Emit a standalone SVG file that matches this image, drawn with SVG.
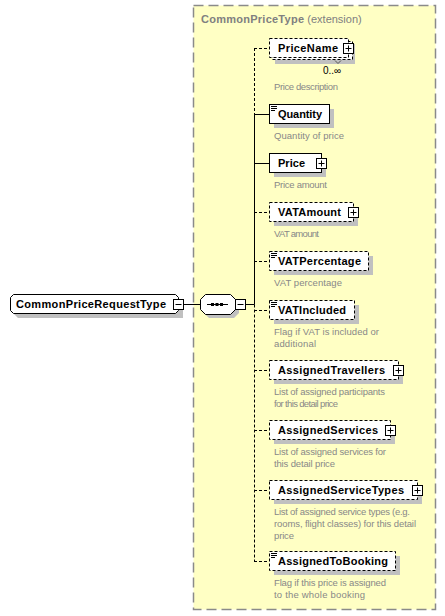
<svg xmlns="http://www.w3.org/2000/svg" width="445" height="616" viewBox="0 0 445 616">
<defs>
<style>
.bg{fill:#ffffc4;stroke:#8a8a8a;stroke-width:1.5;stroke-dasharray:10 5}
.sh{fill:#c0c0c0}
.bx{fill:#fff;stroke:#000;stroke-width:1}
.opt{stroke-dasharray:3 2}
.nm{font-family:"Liberation Sans",Arial,sans-serif;font-weight:bold;font-size:11px;fill:#000}
.ds{font-family:"Liberation Sans",Arial,sans-serif;font-size:9.5px;fill:#888}
.ttl{font-family:"Liberation Sans",Arial,sans-serif;font-size:11px;fill:#808080}
.oc{font-family:"Liberation Sans",Arial,sans-serif;font-size:10px;fill:#000}
.ln{stroke:#000;stroke-width:1;fill:none}
.dl{stroke-dasharray:3 2}
.ic{fill:#fff;stroke:#000;stroke-width:1}
</style>
<g id="plus"><rect class="ic" x="0.5" y="0.5" width="10" height="10"/><path class="ln" d="M2.5,5.5H8.5M5.5,2.5V8.5"/></g>
<g id="minus"><rect class="ic" x="0.5" y="0.5" width="10" height="10"/><path class="ln" d="M2.5,5.5H8.5"/></g>
<g id="simp"><path class="ln" d="M0,0.5H6M0,2.5H6M0,4.5H4"/></g>
</defs>

<rect class="bg" x="193.5" y="5.5" width="242" height="604"/>
<text class="ttl" x="201" y="23"><tspan font-weight="bold" textLength="103">CommonPriceType</tspan><tspan> (extension)</tspan></text>

<g id="connectors">
<path class="ln" d="M183,304.5H200M245,304.5H254.5"/>
<path class="ln dl" d="M254.5,48V114"/>
<path class="ln" d="M254.5,114V304.5"/>
<path class="ln dl" d="M254.5,304.5V561"/>
<path class="ln dl" d="M254,48.5H269"/>
<path class="ln" d="M254,114.5H269M254,163.5H269"/>
<path class="ln dl" d="M254,212.5H269M254,261.5H269M254,310.5H269M254,370.5H269M254,430.5H269M254,490.5H269M254,561.5H269"/>
</g>

<g id="CommonPriceRequestType">
<path class="sh" d="M18,299H183V318H18L14,314V303Z"/>
<path class="bx" d="M13.5,294.5H175.5L178.5,297.5V310.5L175.5,313.5H13.5L10.5,310.5V297.5Z"/>
<text class="nm" x="16" y="308" textLength="150">CommonPriceRequestType</text>
<use href="#minus" x="173" y="299"/>
</g>

<g id="sequence">
<path class="sh" d="M209,298H234L239,303V313L234,318H209L204,313V303Z"/>
<path class="bx" d="M205.5,294.5H230.5L235.5,299.5V309.5L230.5,314.5H205.5L200.5,309.5V299.5Z"/>
<path class="ln" d="M207,304.5H228"/>
<rect x="211" y="303" width="3" height="3" fill="#000"/>
<rect x="215.5" y="303" width="3" height="3" fill="#000"/>
<rect x="220" y="303" width="3" height="3" fill="#000"/>
<use href="#minus" x="235" y="299"/>
</g>

<g id="PriceName">
<rect class="sh" x="275" y="44" width="80" height="20"/>
<rect class="bx opt" x="272.5" y="41.5" width="80" height="18"/>
<rect class="bx opt" x="269.5" y="38.5" width="79" height="19"/>
<text class="nm" x="278" y="52" textLength="60">PriceName</text>
<use href="#plus" x="343" y="43"/>
<path d="M335,60.5L338,63.5L341,60.5" fill="none" stroke="#555" stroke-width="1"/>
<text class="oc" x="323" y="74">0..∞</text>
<text class="ds" x="274" y="90" textLength="64">Price description</text>
</g>

<g id="Quantity">
<rect class="sh" x="274" y="109" width="60" height="19"/>
<rect class="bx" x="269.5" y="104.5" width="60" height="19"/>
<use href="#simp" x="271" y="106"/>
<text class="nm" x="278" y="118" textLength="44">Quantity</text>
<text class="ds" x="274" y="139" textLength="70">Quantity of price</text>
</g>

<g id="Price">
<rect class="sh" x="274" y="158" width="52" height="19"/>
<rect class="bx" x="269.5" y="153.5" width="52" height="19"/>
<text class="nm" x="278" y="167" textLength="27">Price</text>
<use href="#plus" x="316" y="158"/>
<text class="ds" x="274" y="188" textLength="53">Price amount</text>
</g>

<g id="VATAmount">
<rect class="sh" x="274" y="207" width="84" height="19"/>
<rect class="bx opt" x="269.5" y="202.5" width="84" height="19"/>
<text class="nm" x="278" y="216" textLength="63">VATAmount</text>
<use href="#plus" x="348" y="207"/>
<text class="ds" x="274" y="237" textLength="45">VAT amount</text>
</g>

<g id="VATPercentage">
<rect class="sh" x="274" y="256" width="99" height="19"/>
<rect class="bx opt" x="269.5" y="251.5" width="99" height="19"/>
<use href="#simp" x="271" y="253"/>
<text class="nm" x="278" y="265" textLength="83">VATPercentage</text>
<text class="ds" x="274" y="286" textLength="68">VAT percentage</text>
</g>

<g id="VATIncluded">
<rect class="sh" x="274" y="305" width="85" height="19"/>
<rect class="bx opt" x="269.5" y="300.5" width="85" height="19"/>
<use href="#simp" x="271" y="302"/>
<text class="nm" x="278" y="314" textLength="68">VATIncluded</text>
<text class="ds" x="274" y="335" textLength="105">Flag if VAT is included or</text>
<text class="ds" x="274" y="347" textLength="42">additional</text>
</g>

<g id="AssignedTravellers">
<rect class="sh" x="274" y="365" width="129" height="19"/>
<rect class="bx opt" x="269.5" y="360.5" width="129" height="19"/>
<text class="nm" x="278" y="374" textLength="107">AssignedTravellers</text>
<use href="#plus" x="393" y="365"/>
<text class="ds" x="274" y="395" textLength="111">List of assigned participants</text>
<text class="ds" x="274" y="407" textLength="64">for this detail price</text>
</g>

<g id="AssignedServices">
<rect class="sh" x="274" y="425" width="121" height="19"/>
<rect class="bx opt" x="269.5" y="420.5" width="121" height="19"/>
<text class="nm" x="278" y="434" textLength="100">AssignedServices</text>
<use href="#plus" x="385" y="425"/>
<text class="ds" x="274" y="455" textLength="112">List of assigned services for</text>
<text class="ds" x="274" y="467" textLength="61">this detail price</text>
</g>

<g id="AssignedServiceTypes">
<rect class="sh" x="274" y="485" width="148" height="19"/>
<rect class="bx opt" x="269.5" y="480.5" width="148" height="19"/>
<text class="nm" x="278" y="494" textLength="126">AssignedServiceTypes</text>
<use href="#plus" x="412" y="485"/>
<text class="ds" x="274" y="515" textLength="136">List of assigned service types (e.g.</text>
<text class="ds" x="274" y="527" textLength="142">rooms, flight classes) for this detail</text>
<text class="ds" x="274" y="539" textLength="20">price</text>
</g>

<g id="AssignedToBooking">
<rect class="sh" x="274" y="556" width="126" height="19"/>
<rect class="bx opt" x="269.5" y="551.5" width="126" height="19"/>
<use href="#simp" x="271" y="553"/>
<text class="nm" x="278" y="565" textLength="110">AssignedToBooking</text>
<text class="ds" x="274" y="586" textLength="112">Flag if this price is assigned</text>
<text class="ds" x="274" y="598" textLength="91">to the whole booking</text>
</g>
</svg>
